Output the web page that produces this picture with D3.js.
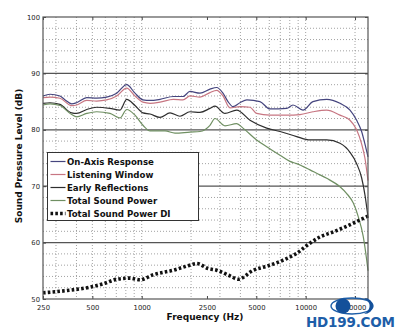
<!DOCTYPE html>
<html>
<head>
<meta charset="utf-8">
<script src="https://cdn.jsdelivr.net/npm/d3@7"></script>
<style>
  body { margin: 0; background: #fff; }
  svg { display: block; }
  text { font-family: "DejaVu Sans", sans-serif; }
</style>
</head>
<body>
<svg id="chart" width="400" height="330"></svg>
<script>
// Frequency tick labels and level ticks
const freqTicks = [250, 500, 1000, 2500, 5000, 10000, 20000];
const levelTicks = [50, 60, 70, 80, 90, 100];

// On-Axis Response
const onAxisFreq = [250, 276, 317, 341, 374, 401, 462, 531, 611, 704, 810, 910, 1018, 1124, 1293, 1558, 1785, 1970, 2267, 2608, 2866, 3131, 3359, 3603, 3975, 4385, 5262, 6059, 7660, 8370, 9630, 11076, 13441, 16190, 18640, 20460, 21940, 22980, 24000];
const onAxisDb   = [86.0, 86.3, 86.0, 85.3, 84.6, 84.8, 85.7, 85.6, 85.8, 86.5, 88.0, 86.5, 85.3, 85.2, 85.4, 85.9, 85.9, 86.8, 86.5, 87.2, 87.5, 86.5, 85.0, 84.1, 84.8, 85.3, 85.0, 83.7, 83.8, 84.4, 83.5, 85.0, 85.4, 84.7, 83.5, 81.7, 79.7, 77.5, 75.2];

// Listening Window
const windowFreq = [250, 276, 317, 374, 401, 462, 531, 611, 704, 810, 910, 1018, 1124, 1293, 1558, 1785, 1970, 2267, 2608, 2866, 3131, 3455, 3975, 4575, 5022, 6059, 7660, 9235, 11076, 13441, 16190, 18640, 20460, 21940, 22980, 24000];
const windowDb   = [85.7, 85.8, 85.6, 84.3, 84.4, 85.2, 85.1, 85.3, 86.0, 87.4, 86.0, 84.9, 84.7, 84.9, 85.4, 85.3, 86.0, 85.8, 86.6, 87.0, 86.0, 83.9, 84.1, 84.0, 82.9, 82.6, 82.6, 82.7, 83.2, 83.5, 82.6, 81.7, 80.0, 77.5, 75.0, 71.0];

// Early Reflections
const earlyFreq = [250, 276, 317, 374, 401, 462, 531, 640, 737, 810, 910, 1018, 1124, 1293, 1488, 1711, 1970, 2267, 2608, 2799, 3220, 3795, 4575, 5784, 6970, 8816, 10618, 13441, 16190, 18640, 20460, 21940, 22980, 24000];
const earlyDb   = [84.7, 84.8, 84.5, 83.0, 82.9, 83.6, 84.0, 83.8, 83.5, 85.4, 84.3, 83.0, 82.8, 82.2, 83.0, 82.4, 83.2, 83.1, 83.8, 84.2, 82.9, 83.5, 81.7, 80.3, 79.7, 78.8, 78.2, 78.2, 77.6, 76.0, 74.0, 71.5, 68.5, 64.5];

// Total Sound Power
const powerFreq = [250, 276, 317, 374, 401, 462, 531, 640, 704, 737, 810, 910, 1018, 1124, 1387, 1595, 1970, 2267, 2608, 2799, 3220, 3795, 4147, 5022, 5784, 6970, 8022, 8816, 10618, 11667, 13441, 16190, 17800, 19525, 20930, 22440, 23540, 24000];
const powerDb   = [84.4, 84.6, 84.3, 82.7, 82.3, 82.9, 83.2, 82.9, 82.3, 82.1, 83.6, 82.6, 80.8, 79.8, 79.8, 79.4, 79.6, 79.7, 80.8, 82.0, 80.7, 81.1, 80.3, 78.2, 77.0, 75.5, 74.4, 74.0, 72.9, 72.3, 71.4, 69.9, 68.7, 67.0, 64.6, 61.1, 57.0, 55.0];

// Total Sound Power DI
const diFreq = [250, 374, 484, 583, 704, 848, 976, 1177, 1558, 1970, 2164, 2548, 2866, 3455, 3882, 4791, 5784, 7301, 8816, 10618, 12223, 14745, 17800, 22440, 24000];
const diDb   = [51.1, 51.6, 52.1, 52.7, 53.5, 53.7, 53.4, 54.3, 55.1, 56.0, 56.3, 55.4, 55.1, 54.1, 53.5, 55.1, 55.8, 56.9, 58.1, 59.9, 61.0, 61.9, 62.9, 64.3, 64.7];

const seriesNames = ["On-Axis Response", "Listening Window", "Early Reflections", "Total Sound Power", "Total Sound Power DI"];

const series = [
  { name: seriesNames[0], f: onAxisFreq, v: onAxisDb, color: "#45457e", width: 1.2 },
  { name: seriesNames[1], f: windowFreq, v: windowDb, color: "#c77682", width: 1.2 },
  { name: seriesNames[2], f: earlyFreq,  v: earlyDb,  color: "#2e2e2e", width: 1.2 },
  { name: seriesNames[3], f: powerFreq,  v: powerDb,  color: "#6f8f62", width: 1.2 },
  { name: seriesNames[4], f: diFreq,     v: diDb,     color: "#111111", width: 3.6, dash: "2.6,2.2" }
];

const svg = d3.select("#chart");
const plotL = 43, plotR = 368, plotT = 17, plotB = 299;

const x = d3.scaleLog().domain([250, 24000]).range([plotL, plotR]);
const y = d3.scaleLinear().domain([50, 100]).range([plotB, plotT]);

// Minor grid: dotted
const grid = svg.append("g");
grid.selectAll("line.v").data(x.ticks()).join("line")
  .attr("x1", d => x(d)).attr("x2", d => x(d))
  .attr("y1", plotT).attr("y2", plotB)
  .attr("stroke", "#8a8a8a").attr("stroke-width", 0.8).attr("stroke-dasharray", "1,2");
grid.selectAll("line.h").data(d3.range(52, 100, 2).filter(d => d % 10 !== 0)).join("line")
  .attr("x1", plotL).attr("x2", plotR)
  .attr("y1", d => y(d)).attr("y2", d => y(d))
  .attr("stroke", "#8a8a8a").attr("stroke-width", 0.8).attr("stroke-dasharray", "1,2");
// Major horizontal grid: solid
grid.selectAll("line.m").data(levelTicks.slice(1, -1)).join("line")
  .attr("x1", plotL).attr("x2", plotR)
  .attr("y1", d => y(d)).attr("y2", d => y(d))
  .attr("stroke", "#555").attr("stroke-width", 1.3);

// Axes
const fmt = d3.format("d");
const axB = svg.append("g").attr("transform", `translate(0,${plotB})`)
  .call(d3.axisBottom(x).tickValues(freqTicks).tickFormat(fmt).tickSizeInner(-3).tickSizeOuter(0).tickPadding(6));
const axT = svg.append("g").attr("transform", `translate(0,${plotT})`)
  .call(d3.axisTop(x).tickValues(freqTicks).tickFormat("").tickSizeInner(-3).tickSizeOuter(0));
const axL = svg.append("g").attr("transform", `translate(${plotL},0)`)
  .call(d3.axisLeft(y).tickValues(levelTicks).tickFormat(fmt).tickSizeInner(-3).tickSizeOuter(0).tickPadding(3));
const axR = svg.append("g").attr("transform", `translate(${plotR},0)`)
  .call(d3.axisRight(y).tickValues(levelTicks).tickFormat("").tickSizeInner(-3).tickSizeOuter(0));
[axB, axT, axL, axR].forEach(a => {
  a.select(".domain").remove();
  a.selectAll(".tick line").attr("stroke", "#444");
  a.selectAll("text").attr("font-size", 6.8).attr("fill", "#222")
    .attr("font-family", "DejaVu Sans, sans-serif");
});

// Curves
const line = d3.line().curve(d3.curveMonotoneX);
const plot = svg.append("g");
series.forEach(s => {
  const pts = s.f.map((f, i) => [x(f), y(s.v[i])]);
  const p = plot.append("path").attr("d", line(pts))
    .attr("fill", "none").attr("stroke", s.color).attr("stroke-width", s.width);
  if (s.dash) p.attr("stroke-dasharray", s.dash);
});

// Frame
svg.append("rect").attr("x", plotL).attr("y", plotT)
  .attr("width", plotR - plotL).attr("height", plotB - plotT)
  .attr("fill", "none").attr("stroke", "#555").attr("stroke-width", 1.2);

// Legend
const lg = svg.append("g");
const lgX = 47.5, lgY = 152.5, lgW = 151, lgH = 68;
lg.append("rect").attr("x", lgX).attr("y", lgY).attr("width", lgW).attr("height", lgH)
  .attr("fill", "#fff").attr("stroke", "#333").attr("stroke-width", 1);
series.forEach((s, i) => {
  const cy = lgY + 9 + i * 13;
  const l = lg.append("line").attr("x1", lgX + 3).attr("x2", lgX + 18)
    .attr("y1", cy).attr("y2", cy)
    .attr("stroke", s.color).attr("stroke-width", s.dash ? 3.6 : 1.2);
  if (s.dash) l.attr("stroke-dasharray", s.dash);
  lg.append("text").attr("x", lgX + 19.5).attr("y", cy).attr("dy", "0.35em")
    .attr("font-size", 8.6).attr("font-weight", "bold").attr("fill", "#111")
    .text(s.name);
});

// Axis titles
svg.append("text").attr("x", 205).attr("y", 319.5).attr("text-anchor", "middle")
  .attr("font-size", 9).attr("font-weight", "bold").attr("fill", "#111")
  .text("Frequency (Hz)");
svg.append("text").attr("transform", "translate(22,156) rotate(-90)")
  .attr("text-anchor", "middle")
  .attr("font-size", 9).attr("font-weight", "bold").attr("fill", "#111")
  .text("Sound Pressure Level (dB)");

// Site mark
const mark = svg.append("g");
mark.append("ellipse").attr("cx", 352).attr("cy", 306).attr("rx", 21).attr("ry", 8)
  .attr("fill", "none").attr("stroke", "#1d5ea8").attr("stroke-width", 1.4);
mark.append("circle").attr("cx", 343).attr("cy", 306).attr("r", 7.5).attr("fill", "#14509a");
mark.append("path").attr("d", "M364,298 A9,8 0 0 1 364,314 A14,10 0 0 0 364,298 Z").attr("fill", "#14509a");
mark.append("text").attr("x", 306).attr("y", 327).attr("font-family", "Liberation Sans, Arial, sans-serif")
  .attr("font-size", 13.5).attr("font-weight", "bold").attr("fill", "#1d5ea8")
  .attr("textLength", 89).text("HD199.COM");
</script>
</body>
</html>
